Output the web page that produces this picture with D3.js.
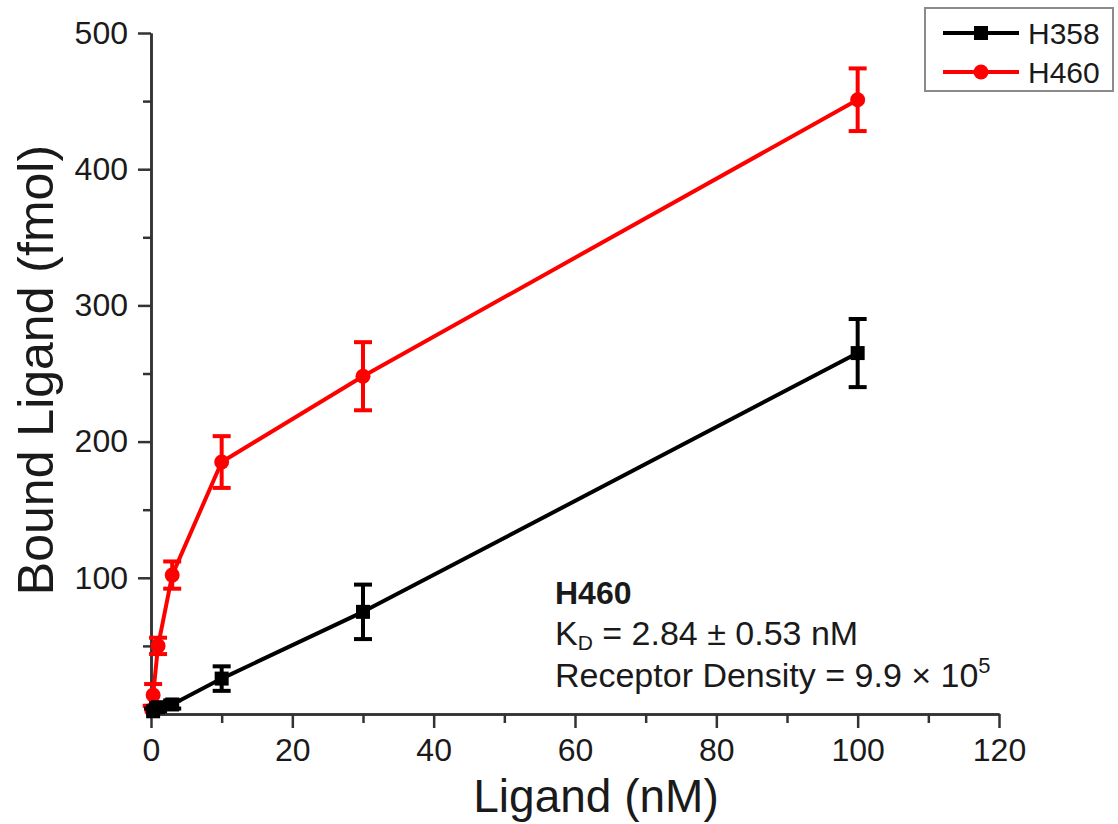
<!DOCTYPE html>
<html>
<head>
<meta charset="utf-8">
<script src="https://cdn.jsdelivr.net/npm/d3@7"></script>
<style>
  html, body { margin: 0; padding: 0; background: #ffffff; }
  svg { display: block; font-family: "Liberation Sans", Arial, sans-serif; }
</style>
</head>
<body>
<svg id="chart" width="1118" height="824"></svg>
<script>
// Saturation binding: bound ligand vs. free ligand concentration
const ligandH358 = [0.3, 1, 3, 10, 30, 100];
const boundH358  = [2, 5, 7, 26, 75, 265];
const errH358    = [2, 3, 3, 9, 20, 25];

const ligandH460 = [0.1, 0.3, 1, 3, 10, 30, 100];
const boundH460  = [3, 14, 50, 102, 185, 248, 451];
const errH460    = [3, 8, 6, 10, 19, 25, 23];

const xMajorTicks = [0, 20, 40, 60, 80, 100, 120];
const xMinorTicks = [10, 30, 50, 70, 90, 110];
const yMajorTicks = [100, 200, 300, 400, 500];
const yMinorTicks = [50, 150, 250, 350, 450];

const seriesNames = ["H358", "H460"];
const seriesColors = ["#000000", "#ff0000"];

const svg = d3.select("#chart");
const x = d3.scaleLinear().domain([0, 120]).range([151, 999]);
const y = d3.scaleLinear().domain([0, 500]).range([714, 33]);

const axisColor = "#333333";

// Axes: minor ticks first, then labelled major ticks
svg.append("g").attr("transform", `translate(0,${y(0)})`)
  .call(d3.axisBottom(x).tickValues(xMinorTicks).tickSize(9).tickSizeOuter(0).tickFormat(""));
svg.append("g").attr("transform", `translate(0,${y(0)})`)
  .call(d3.axisBottom(x).tickValues(xMajorTicks).tickSize(14).tickPadding(10).tickSizeOuter(0).tickFormat(d3.format("d")));

svg.append("g").attr("transform", `translate(${x(0)},0)`)
  .call(d3.axisLeft(y).tickValues(yMinorTicks).tickSize(8).tickSizeOuter(0).tickFormat(""));
svg.append("g").attr("transform", `translate(${x(0)},0)`)
  .call(d3.axisLeft(y).tickValues(yMajorTicks).tickSize(13).tickPadding(10).tickSizeOuter(0).tickFormat(d3.format("d")));

svg.selectAll(".domain").attr("stroke", axisColor).attr("stroke-width", 2.5);
svg.selectAll(".tick line").attr("stroke", axisColor).attr("stroke-width", 2.5);
svg.selectAll(".tick text")
  .attr("fill", "#1a1a1a")
  .style("font-size", "32px")
  .style("font-family", "'Liberation Sans', Arial, sans-serif");

// Axis titles
svg.append("text")
  .attr("x", 596).attr("y", 812)
  .attr("text-anchor", "middle")
  .style("font-size", "46px")
  .attr("fill", "#1a1a1a")
  .text("Ligand (nM)");

svg.append("text")
  .attr("transform", "translate(53,370) rotate(-90)")
  .attr("text-anchor", "middle")
  .style("font-size", "50px")
  .attr("fill", "#1a1a1a")
  .text("Bound Ligand (fmol)");

// Series (H460 underneath, H358 on top)
const series = [
  { name: seriesNames[1], color: seriesColors[1], xs: ligandH460, ys: boundH460, es: errH460, marker: "circle" },
  { name: seriesNames[0], color: seriesColors[0], xs: ligandH358, ys: boundH358, es: errH358, marker: "square" }
];

const line = d3.line().x(d => x(d.x)).y(d => y(d.y));

series.forEach(s => {
  const pts = s.xs.map((v, i) => ({ x: v, y: s.ys[i], e: s.es[i] }));
  const g = svg.append("g");
  g.append("path")
    .datum(pts)
    .attr("d", line)
    .attr("fill", "none")
    .attr("stroke", s.color)
    .attr("stroke-width", 4)
    .attr("stroke-linejoin", "round");

  const cap = 9;
  const eb = g.selectAll(".eb").data(pts).enter().append("g");
  eb.append("line")
    .attr("x1", d => x(d.x)).attr("x2", d => x(d.x))
    .attr("y1", d => y(Math.min(500, d.y + d.e))).attr("y2", d => y(Math.max(0, d.y - d.e)))
    .attr("stroke", s.color).attr("stroke-width", 4);
  eb.append("line")
    .attr("x1", d => x(d.x) - cap).attr("x2", d => x(d.x) + cap)
    .attr("y1", d => y(d.y + d.e)).attr("y2", d => y(d.y + d.e))
    .attr("stroke", s.color).attr("stroke-width", 4);
  eb.filter(d => d.y - d.e > 0.5).append("line")
    .attr("x1", d => x(d.x) - cap).attr("x2", d => x(d.x) + cap)
    .attr("y1", d => y(d.y - d.e)).attr("y2", d => y(d.y - d.e))
    .attr("stroke", s.color).attr("stroke-width", 4);

  if (s.marker === "circle") {
    g.selectAll(".mk").data(pts).enter().append("circle")
      .attr("cx", d => x(d.x)).attr("cy", d => y(d.y)).attr("r", 7.5)
      .attr("fill", s.color);
  } else {
    g.selectAll(".mk").data(pts).enter().append("rect")
      .attr("x", d => x(d.x) - 7).attr("y", d => y(d.y) - 7)
      .attr("width", 14).attr("height", 14)
      .attr("fill", s.color);
  }
});

// Legend
const legend = svg.append("g");
legend.append("rect")
  .attr("x", 925).attr("y", 8).attr("width", 188).attr("height", 83)
  .attr("fill", "#ffffff").attr("stroke", "#8a8a8a").attr("stroke-width", 2);
const legendRows = [
  { name: seriesNames[0], color: seriesColors[0], marker: "square", cy: 33 },
  { name: seriesNames[1], color: seriesColors[1], marker: "circle", cy: 72 }
];
legendRows.forEach(r => {
  legend.append("line")
    .attr("x1", 943).attr("x2", 1019).attr("y1", r.cy).attr("y2", r.cy)
    .attr("stroke", r.color).attr("stroke-width", 4);
  if (r.marker === "circle") {
    legend.append("circle").attr("cx", 981).attr("cy", r.cy).attr("r", 7.5).attr("fill", r.color);
  } else {
    legend.append("rect").attr("x", 974).attr("y", r.cy - 7).attr("width", 14).attr("height", 14).attr("fill", r.color);
  }
  legend.append("text")
    .attr("x", 1028).attr("y", r.cy + 11)
    .style("font-size", "30px")
    .attr("fill", "#1a1a1a")
    .text(r.name);
});

// Binding parameters annotation
const note = svg.append("g").attr("fill", "#1a1a1a");
note.append("text")
  .attr("x", 555).attr("y", 604)
  .style("font-size", "32px").style("font-weight", "bold")
  .text("H460");
const kd = note.append("text").attr("x", 555).attr("y", 645).style("font-size", "34px");
kd.append("tspan").text("K");
kd.append("tspan").attr("dy", 5).style("font-size", "21px").text("D");
kd.append("tspan").attr("dy", -5).text(" = 2.84 ± 0.53 nM");
const rd = note.append("text").attr("x", 555).attr("y", 687).style("font-size", "34px");
rd.append("tspan").text("Receptor Density = 9.9 × 10");
rd.append("tspan").attr("dy", -14).style("font-size", "22px").text("5");
</script>
</body>
</html>
